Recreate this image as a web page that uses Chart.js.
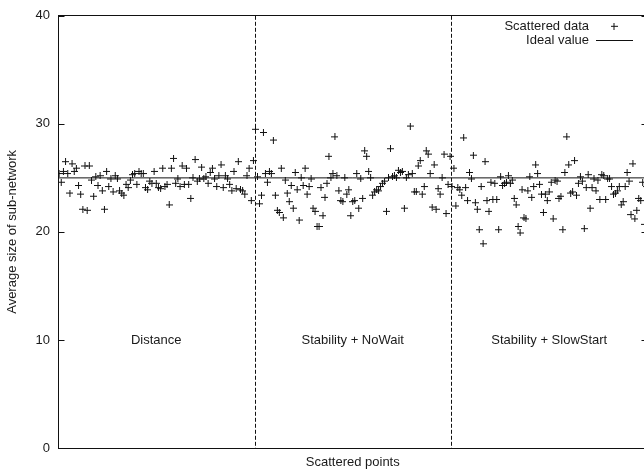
<!DOCTYPE html>
<html lang="en">
<head>
  <meta charset="UTF-8" />
  <title>Average size of sub-network</title>
  <script src="https://cdn.jsdelivr.net/npm/chart.js"></script>
  <style>
    body { margin: 0; overflow: hidden; background: #fff; }
    /* plot is a bit wider than the window: right border falls just off screen */
    #wrap { width: 652px; height: 470px; }
  </style>
</head>
<body>
  <div id="wrap"><canvas id="chart"></canvas></div>

  <script>
    // ---- data ----
    const sectionLabels = ['Distance', 'Stability + NoWait', 'Stability + SlowStart'];

    const distance = [
      25.4, 24.6, 25.6, 26.5, 25.4, 23.6, 26.3, 25.6, 25.9, 24.3,
      23.5, 22.1, 26.1, 22.0, 26.1, 24.8, 23.3, 25.1, 24.3, 25.2,
      23.8, 22.1, 25.6, 24.2, 24.9, 23.7, 25.2, 24.9, 23.8, 23.6,
      23.4, 24.4, 24.1, 24.8, 25.3, 25.4, 24.4, 25.6, 25.4, 25.4,
      24.1, 23.9, 24.7, 24.5, 25.6, 24.5, 24.1, 24.0, 25.9, 24.2,
      24.4, 22.5, 25.9, 26.8, 24.5, 24.9, 24.2, 26.1, 24.4, 25.9,
      24.4, 23.1, 25.0, 26.7, 24.7, 24.9, 26.0, 24.9, 25.1, 24.5,
      25.5, 25.9, 24.9, 24.2, 25.2, 26.2, 24.1, 25.2, 24.9, 24.4,
      23.8, 25.6, 24.0, 26.5, 23.9, 23.8, 23.5, 25.2, 25.9, 22.9,
      26.6
    ];

    const noWait = [
      29.5, 25.1, 22.6, 23.4, 29.2, 25.4, 24.6, 25.6, 25.4, 28.5,
      23.4, 22.0, 21.8, 25.9, 21.3, 24.8, 23.6, 22.8, 24.3, 22.2,
      25.5, 23.9, 21.1, 25.0, 24.3, 25.9, 23.5, 24.2, 24.9, 22.2,
      21.9, 20.5, 20.5, 24.1, 21.5, 23.2, 24.5, 27.0, 25.0, 25.4,
      28.8, 25.2, 23.8, 22.9, 22.8, 25.0, 23.5, 23.9, 21.5, 22.8,
      22.9, 25.4, 22.2, 24.9, 23.1, 27.5, 27.0, 25.6, 25.0, 23.4,
      23.7, 23.9, 23.8, 24.2, 24.5, 24.7, 21.9, 25.0, 27.7, 25.1,
      25.2, 25.0, 25.7, 25.5, 25.6, 22.2, 25.0, 25.3, 29.8, 25.4,
      23.7, 23.7, 26.1, 26.6, 23.5, 24.2, 27.5, 27.2, 25.4, 22.3,
      26.2, 22.1, 24.0, 23.5, 25.0, 27.2, 21.7, 24.4, 27.0
    ];

    const slowStart = [
      24.2, 25.9, 22.4, 24.1, 23.9, 23.4, 28.7, 24.1, 22.9, 25.5,
      24.9, 27.1, 22.7, 22.1, 20.2, 24.2, 18.9, 26.5, 22.9, 21.9,
      24.6, 23.0, 24.5, 23.0, 20.2, 25.1, 24.3, 24.5, 24.6, 25.2,
      24.5, 24.8, 23.1, 22.5, 20.5, 19.9, 23.9, 21.3, 21.2, 23.8,
      25.1, 23.2, 24.2, 26.2, 25.4, 24.4, 23.5, 21.8, 23.5, 22.9,
      23.7, 24.6, 21.2, 24.8, 24.7, 23.1, 23.3, 20.2, 25.5, 28.8,
      26.2, 23.6, 23.7, 26.6, 23.4, 24.5, 25.1, 24.7, 20.3, 24.1,
      25.3, 22.2, 24.1, 24.9, 23.8, 24.8, 23.0, 25.3, 25.2, 23.0,
      24.9, 24.9, 24.2, 23.5, 23.6, 23.8, 24.2, 22.5, 22.8, 24.2,
      25.5, 24.7, 21.6, 26.3, 21.2, 22.0, 23.1, 22.9, 24.6, 20.7,
      24.2
    ];

    const idealValue = 25;
    const yTicks = [0, 10, 20, 30, 40];

    // ---- build chart data ----
    const FONT = "'Liberation Sans', Arial, sans-serif";
    const INK = '#1a1a1a';
    const perSection = 100; // each run occupies 100 units on the x axis

    const scattered = [];
    [distance, noWait, slowStart].forEach((vals, s) => {
      vals.forEach((v, j) => {
        scattered.push({ x: s * perSection + (j + 0.5) * perSection / vals.length, y: v });
      });
    });

    // gnuplot style markers (crisp 1px strokes)
    function plusIcon() {
      const c = document.createElement('canvas');
      c.width = 7; c.height = 7;
      const g = c.getContext('2d');
      g.fillStyle = '#111';
      g.fillRect(3, 0, 1, 7);
      g.fillRect(0, 3, 7, 1);
      return c;
    }
    function lineIcon() {
      const c = document.createElement('canvas');
      c.width = 37; c.height = 1;
      const g = c.getContext('2d');
      g.fillStyle = '#111';
      g.fillRect(0, 0, 37, 1);
      return c;
    }

    // frame, inward ticks, dashed separators and run names
    const gnuplotFrame = {
      id: 'gnuplotFrame',
      afterLayout(chart) {
        // push the key into the top right corner of the plot
        const lg = chart.legend, a = chart.chartArea;
        lg.left = a.right - 14 - lg.width;
        lg.right = lg.left + lg.width;
        lg.top = a.top + 3;
        lg.bottom = lg.top + lg.height;
      },
      beforeDatasetsDraw(chart) {
        const { ctx, chartArea: a, scales: { x, y } } = chart;
        ctx.save();
        ctx.strokeStyle = '#111';
        ctx.lineWidth = 1;

        ctx.setLineDash([4, 2]);
        [1, 2].forEach(s => {
          const px = Math.round(x.getPixelForValue(s * perSection)) + 0.5;
          ctx.beginPath();
          ctx.moveTo(px, a.top);
          ctx.lineTo(px, a.bottom);
          ctx.stroke();
        });
        ctx.setLineDash([]);

        const l = Math.round(a.left) + 0.5, r = Math.round(a.right) - 0.5;
        const t = Math.round(a.top) - 0.5, b = Math.round(a.bottom) + 0.5;
        ctx.strokeRect(l, t, r - l, b - t);
        ctx.beginPath();
        yTicks.forEach(v => {
          const py = Math.round(y.getPixelForValue(v)) + 0.5;
          ctx.moveTo(l, py); ctx.lineTo(l + 6, py);
          ctx.moveTo(r, py); ctx.lineTo(r - 6, py);
        });
        ctx.stroke();

        ctx.fillStyle = INK;
        ctx.font = '13px ' + FONT;
        ctx.textAlign = 'center';
        ctx.textBaseline = 'middle';
        sectionLabels.forEach((txt, s) => {
          ctx.fillText(txt, x.getPixelForValue(s * perSection + perSection / 2), y.getPixelForValue(10));
        });
        ctx.restore();
      }
    };

    const ctx = document.getElementById('chart').getContext('2d');
    new Chart(ctx, {
      type: 'scatter',
      data: {
        datasets: [
          {
            label: 'Scattered data',
            data: scattered,
            pointStyle: plusIcon(),
            pointRadius: 3.5,
            pointHoverRadius: 3.5
          },
          {
            type: 'line',
            label: 'Ideal value',
            data: [{ x: 0, y: idealValue }, { x: 3 * perSection, y: idealValue }],
            borderColor: '#111',
            borderWidth: 1,
            pointRadius: 0,
            pointStyle: lineIcon(),
            fill: false
          }
        ]
      },
      options: {
        responsive: true,
        maintainAspectRatio: false,
        animation: false,
        layout: { padding: { top: 14, right: 1, left: 0, bottom: 0 } },
        scales: {
          x: {
            type: 'linear',
            min: 0,
            max: 3 * perSection,
            ticks: { display: false },
            grid: { display: false, drawTicks: false },
            border: { display: false },
            title: {
              display: true,
              text: 'Scattered points',
              color: INK,
              font: { family: FONT, size: 13 },
              padding: { top: 0, bottom: 0 }
            },
            afterFit(scale) { scale.height = 22; }
          },
          y: {
            min: 0,
            max: 40,
            ticks: { stepSize: 10, color: INK, font: { family: FONT, size: 13 }, padding: 8 },
            grid: { display: false, drawTicks: false },
            border: { display: false },
            title: {
              display: true,
              text: 'Average size of sub-network',
              color: INK,
              font: { family: FONT, size: 13 },
              padding: { top: 5, bottom: 0 }
            },
            afterFit(scale) { scale.width = 58; }
          }
        },
        plugins: {
          legend: {
            position: 'chartArea',
            align: 'start',
            rtl: true,
            labels: {
              usePointStyle: true,
              pointStyleWidth: 37,
              padding: 1,
              color: INK,
              font: { family: FONT, size: 13 }
            }
          },
          tooltip: { enabled: false }
        }
      },
      plugins: [gnuplotFrame]
    });
  </script>
</body>
</html>
